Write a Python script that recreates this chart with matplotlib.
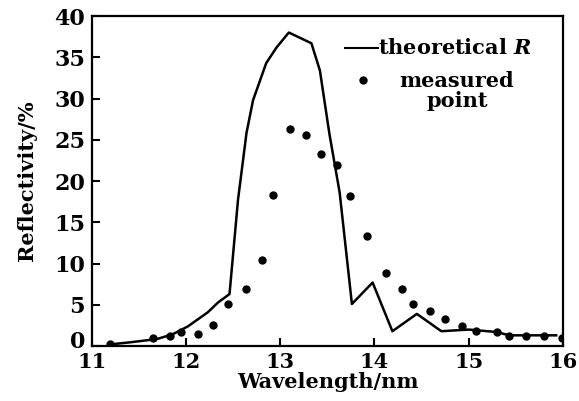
import numpy as np
import matplotlib
matplotlib.use("Agg")
import matplotlib.pyplot as plt
import matplotlib.transforms as mtransforms

# theoretical reflectivity curve
wl_theory = [11.19, 11.4, 11.69, 11.86, 12.02, 12.23, 12.34, 12.46, 12.55, 12.64, 12.71,
             12.85, 12.96, 13.09, 13.33, 13.42, 13.52, 13.63, 13.76, 13.98, 14.19,
             14.45, 14.71, 15.0, 15.3, 15.43, 15.93]
r_theory = [0.2, 0.45, 0.85, 1.45, 2.4, 4.1, 5.3, 6.3, 17.7, 25.8, 29.8,
            34.3, 36.2, 38.0, 36.7, 33.4, 25.8, 18.6, 5.1, 7.7, 1.8,
            3.9, 1.8, 2.0, 1.7, 1.3, 1.3]

# measured points
wl_meas = [11.19, 11.65, 11.83, 11.95, 12.13, 12.28, 12.44, 12.63, 12.80, 12.92, 13.10,
           13.27, 13.43, 13.60, 13.74, 13.92, 14.12, 14.29, 14.41, 14.59, 14.75,
           14.93, 15.08, 15.30, 15.43, 15.61, 15.80, 15.99]
r_meas = [0.2, 1.0, 1.2, 1.7, 1.5, 2.5, 5.1, 6.9, 10.4, 18.3, 26.3,
          25.6, 23.3, 22.0, 18.2, 13.3, 8.9, 6.9, 5.1, 4.2, 3.3,
          2.4, 1.8, 1.7, 1.2, 1.2, 1.2, 1.0]

xticks = [11, 12, 13, 14, 15, 16]
yticks = [0, 5, 10, 15, 20, 25, 30, 35, 40]

plt.rcParams['font.family'] = ['DejaVu Serif']
plt.rcParams['font.weight'] = 'bold'
plt.rcParams['mathtext.fontset'] = 'dejavuserif'

fig = plt.figure(figsize=(5.79, 4.01), dpi=100)
ax = fig.add_axes([0.159, 0.137, 0.813, 0.823])

ax.plot(wl_theory, r_theory, color='black', lw=1.8)
ax.plot(wl_meas, r_meas, 'o', color='black', ms=5)

ax.set_xlim(11, 16)
ax.set_ylim(0, 40)
ax.set_xticks(xticks)
ax.set_yticks(yticks)
ax.tick_params(direction='in', length=6, width=1.5, labelsize=16)
ax.tick_params(axis='x', pad=4, labelsize=15)
ax.tick_params(axis='y', pad=5)
ax.tick_params(top=False, right=False)
for s in ax.spines.values():
    s.set_linewidth(1.6)

# the "0" sits a little higher in the original, clear of the "11"
zero_lbl = ax.yaxis.get_major_ticks()[0].label1
zero_lbl.set_transform(zero_lbl.get_transform() +
                       mtransforms.ScaledTranslation(0, 5 / 72, fig.dpi_scale_trans))

ax.set_xlabel('Wavelength/nm', fontsize=15, fontweight='bold', labelpad=0)
ax.set_ylabel('Reflectivity/%', fontsize=15, fontweight='bold', labelpad=12)

# legend drawn by hand so the second entry is centred like the original
ax.plot([0.537, 0.607], [0.903, 0.903], color='black', lw=1.5, transform=ax.transAxes)
ax.plot([0.575], [0.806], 'o', color='black', ms=5, transform=ax.transAxes)
ax.text(0.607, 0.903, 'theoretical $\\mathbfit{R}$', transform=ax.transAxes,
        fontsize=15, ha='left', va='center')
ax.text(0.775, 0.773, 'measured\npoint', transform=ax.transAxes, fontsize=15,
        ha='center', va='center', multialignment='center', linespacing=1.0)

fig.savefig('out.png', dpi=100)
